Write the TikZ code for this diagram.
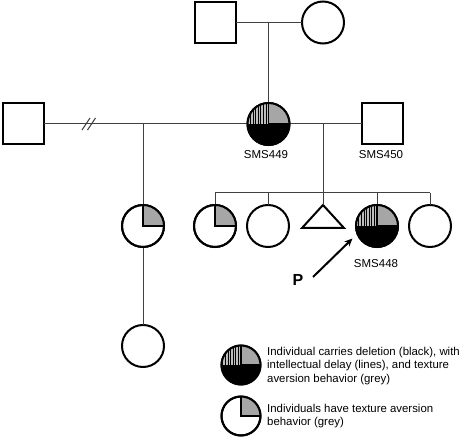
\documentclass[tikz,border=0pt]{standalone}
\usepackage{fontspec}
\setmainfont{Liberation Sans}
\usetikzlibrary{arrows.meta}
\definecolor{qgrey}{HTML}{A6A6A6}
\definecolor{hgrey}{HTML}{BDBDBD}
\tikzset{
  sym/.style={draw=black, line width=2pt, fill=white, inner sep=0pt, outer sep=0pt},
  fem/.style={sym, circle, minimum size=42pt},
  legc/.style={sym, circle, minimum size=39pt},
  male/.style={sym, rectangle, minimum size=41pt},
  conn/.style={draw=black!75, line width=1pt},
  lbl/.style={font=\fontsize{11.5}{13}\selectfont, inner sep=0pt},
  legtext/.style={font=\fontsize{11.4}{13.3}\selectfont, align=left, anchor=west, inner sep=0pt},
}
% texture aversion quadrant (grey, top-right)
\newcommand{\symTex}[2]{%
  \fill[qgrey] (#1.center) -- (#1.north) arc[start angle=90,end angle=0,radius=#2] -- cycle;
  \draw[line width=2pt] (#1.north) -- (#1.center) -- (#1.east);
  \draw[line width=2pt] (#1.center) circle[radius=#2];
}
% affected: bottom black, top-left hatched, top-right grey
\newcommand{\symAff}[2]{%
  \fill[black] (#1.west) arc[start angle=180,end angle=360,radius=#2] -- cycle;
  \fill[qgrey] (#1.center) -- (#1.north) arc[start angle=90,end angle=0,radius=#2] -- cycle;
  \begin{scope}
    \clip (#1.center) -- (#1.north) arc[start angle=90,end angle=180,radius=#2] -- cycle;
    \fill[hgrey] ([xshift=-#2]#1.center) rectangle ([yshift=#2]#1.center);
    \foreach \k in {1,...,9} {
      \draw[line width=0.8pt, black] ([xshift=-\k*2.6pt]#1.center) -- ++(0,#2);
    }
  \end{scope}
  \draw[line width=1.4pt] (#1.north) -- (#1.center) -- (#1.east);
  \draw[line width=2pt] (#1.center) circle[radius=#2];
}
\begin{document}
\begin{tikzpicture}[x=1pt,y=1pt]
\path[use as bounding box] (0,0) rectangle (472,437);

% grandparents
\node[male] (gf) at (215.5,414.5) {};
\node[fem]  (gm) at (323,414.5) {};
\draw[conn] (gf) -- (gm);
\coordinate (gpmid) at (268.5,414.5);

% generation II
\node[male] (h1) at (23.5,313) {};
\node[fem]  (s449) at (268.5,313) {};
\node[male] (s450) at (382,313) {};
\draw[conn] (gpmid) -- (s449);
\draw[conn] (h1) -- (s449);
\draw[conn] (s449) -- (s450);
\node[lbl] (l449) at (266,282) {SMS449};
\node[lbl] (l450) at (381,282) {SMS450};

% break marks
\coordinate (bk1) at (86,313);
\coordinate (bk2) at (91.5,313);
\draw[black!75, line width=1pt] ([shift={(-4,-6)}]bk1) -- ([shift={(4,6)}]bk1);
\draw[black!75, line width=1pt] ([shift={(-4,-6)}]bk2) -- ([shift={(4,6)}]bk2);

% first marriage offspring
\coordinate (m1) at (143,313);
\node[fem] (a1) at (143,211) {};
\node[fem] (a2) at (143,91) {};
\draw[conn] (m1) -- (a1);
\draw[conn] (a1) -- (a2);

% second marriage sibship
\coordinate (m2) at (323,313);
\coordinate (sib) at (323,244);
\node[fem] (b1) at (215,211) {};
\node[fem] (b2) at (268,211) {};
\coordinate (b3) at (323,232);
\draw[line width=2pt, line join=miter, fill=white] (b3) -- ++(21,-23) -- ++(-42,0) -- cycle;
\node[fem] (b4) at (377,211) {};
\node[fem] (b5) at (430,211) {};
\draw[conn] (m2) -- (sib);
\draw[conn] (b1 |- sib) -- (b5 |- sib);
\draw[conn] (b1 |- sib) -- (b1);
\draw[conn] (b2 |- sib) -- (b2);
\draw[conn] (sib) -- (b3);
\draw[conn] (b4 |- sib) -- (b4);
\draw[conn] (b5 |- sib) -- (b5);
\node[lbl] (l448) at (376,173.5) {SMS448};

% symbol fills
\symAff{s449}{21pt}
\symTex{a1}{21pt}
\symTex{b1}{21pt}
\symAff{b4}{21pt}

% proband arrow
\node[font=\fontsize{16}{18}\selectfont\bfseries, inner sep=0pt] (P) at (298,157) {P};
\coordinate (ptail) at (313,160);
\coordinate (ptip) at (352.5,198.5);
\draw[line width=2pt, -{Stealth[length=8pt,width=7pt]}] (ptail) -- (ptip);

% legend
\node[legc] (lg1) at (241,72) {};
\symAff{lg1}{19.5pt}
\node[legtext] (lt1) at (267,71) {Individual carries deletion (black), with\\intellectual delay (lines), and texture\\aversion behavior (grey)};
\node[legc] (lg2) at (241,21) {};
\symTex{lg2}{19.5pt}
\node[legtext] (lt2) at (267,21) {Individuals have texture aversion\\behavior (grey)};
\end{tikzpicture}
\end{document}
